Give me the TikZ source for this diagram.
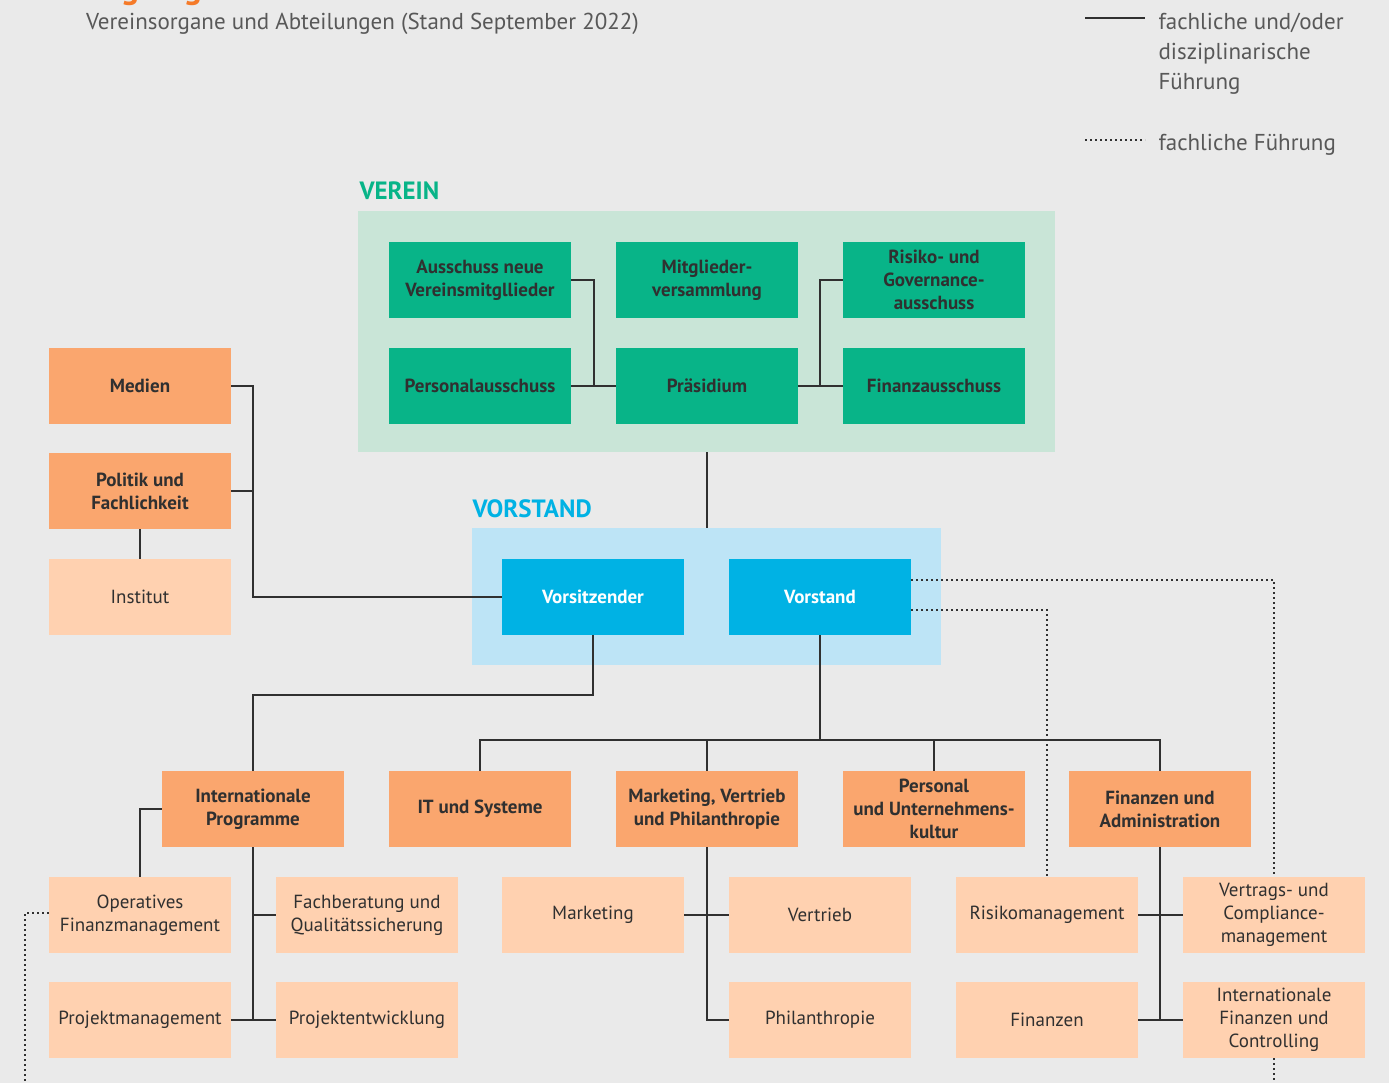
\documentclass[tikz,border=0pt]{standalone}
\usepackage{fontspec}
\setmainfont{PT Sans}

\definecolor{hintergrund}{RGB}{234,234,234}
\definecolor{vereingruen}{RGB}{8,180,136}
\definecolor{vereinhell}{RGB}{201,229,215}
\definecolor{vorstandblau}{RGB}{0,178,228}
\definecolor{vorstandhell}{RGB}{189,228,246}
\definecolor{abtorange}{RGB}{250,166,110}
\definecolor{abthell}{RGB}{255,209,176}
\definecolor{linie}{RGB}{48,48,48}
\definecolor{textgrau}{RGB}{88,88,88}
\definecolor{titelorange}{RGB}{245,122,40}

\begin{document}
\begin{tikzpicture}[x=1pt,y=-1pt,
    box/.style={minimum width=182, minimum height=76, inner sep=0pt, align=center,
        text=linie, font=\fontsize{19}{23}\selectfont},
    gruen/.style={box, fill=vereingruen, font=\fontsize{19}{23}\selectfont\bfseries},
    blau/.style={box, fill=vorstandblau, text=white, font=\fontsize{19}{23}\selectfont\bfseries},
    abteilung/.style={box, fill=abtorange, font=\fontsize{19}{23}\selectfont\bfseries},
    bereich/.style={box, fill=abthell},
    ueberschrift/.style={anchor=west, font=\fontsize{25}{28}\selectfont\bfseries},
    legende/.style={anchor=north west, align=left, text=textgrau, font=\fontsize{23}{30}\selectfont},
    fuehrung/.style={draw=linie, line width=2pt},
    fachlich/.style={draw=linie, line width=2pt, dash pattern=on 2pt off 3pt}]

    % Hintergrund
    \fill[hintergrund] (0,0) rectangle (1389,1083);
    \useasboundingbox (0,0) rectangle (1389,1083);

    % Titel und Legende
    \node[anchor=base west, inner sep=0pt, text=titelorange, font=\fontsize{34}{40}\selectfont\bfseries] (titel) at (86,-1) {Organigramm};
    \node[anchor=west, inner sep=0pt, text=textgrau, font=\fontsize{23}{27}\selectfont] (untertitel) at (86,24) {Vereinsorgane und Abteilungen (Stand September 2022)};
    \coordinate (legA) at (1085,18);
    \coordinate (legB) at (1085,140);
    \draw[fuehrung] (legA) -- ++(60,0);
    \draw[fachlich] (legB) -- ++(60,0);
    \node[legende] (legtextA) at (1155,10) {fachliche und/oder\\disziplinarische\\Führung};
    \node[legende] (legtextB) at (1155,131) {fachliche Führung};

    % Verein
    \node[fill=vereinhell, minimum width=697, minimum height=241, inner sep=0pt] (verein) at (706.5,331.5) {};
    \node[ueberschrift, text=vereingruen] (vereinlabel) at (356,191) {VEREIN};
    \node[gruen] (ausschuss) at (480,280) {Ausschuss neue\\Vereinsmitgllieder};
    \node[gruen] (mitglieder) at (707,280) {Mitglieder-\\versammlung};
    \node[gruen] (risiko) at (934,280) {Risiko- und\\Governance-\\ausschuss};
    \node[gruen] (personal) at (480,386) {Personalausschuss};
    \node[gruen] (praesidium) at (707,386) {Präsidium};
    \node[gruen] (finanzaus) at (934,386) {Finanzausschuss};

    % Vorstand
    \node[fill=vorstandhell, minimum width=469, minimum height=137, inner sep=0pt] (vorstandfeld) at (706.5,596.5) {};
    \node[ueberschrift, text=vorstandblau] (vorstandlabel) at (469,509) {VORSTAND};
    \node[blau] (vorsitz) at (593,597) {Vorsitzender};
    \node[blau] (vorstand) at (820,597) {Vorstand};

    % Stabsstellen links
    \node[abteilung] (medien) at (140,386) {Medien};
    \node[abteilung] (politik) at (140,491) {Politik und\\Fachlichkeit};
    \node[bereich] (institut) at (140,597) {Institut};

    % Abteilungen
    \node[abteilung] (intprog) at (253,809) {Internationale\\Programme};
    \node[abteilung] (itsys) at (480,809) {IT und Systeme};
    \node[abteilung] (mvp) at (707,809) {Marketing, Vertrieb\\und Philanthropie};
    \node[abteilung] (personalku) at (934,809) {Personal\\und Unternehmens-\\kultur};
    \node[abteilung] (finadmin) at (1160,809) {Finanzen und\\Administration};

    % Bereiche
    \node[bereich] (opfin) at (140,915) {Operatives\\Finanzmanagement};
    \node[bereich] (fachber) at (367,915) {Fachberatung und\\Qualitätssicherung};
    \node[bereich] (projman) at (140,1020) {Projektmanagement};
    \node[bereich] (projentw) at (367,1020) {Projektentwicklung};
    \node[bereich] (marketing) at (593,915) {Marketing};
    \node[bereich] (vertrieb) at (820,915) {Vertrieb};
    \node[bereich] (philan) at (820,1020) {Philanthropie};
    \node[bereich] (risikoman) at (1047,915) {Risikomanagement};
    \node[bereich] (vertrags) at (1274,915) {Vertrags- und\\Compliance-\\management};
    \node[bereich] (finanzen) at (1047,1020) {Finanzen};
    \node[bereich] (intfin) at (1274,1020) {Internationale\\Finanzen und\\Controlling};

    % Linien im Verein
    \draw[fuehrung] (ausschuss.east) -- ++(23,0) |- (praesidium.west);
    \draw[fuehrung] (personal.east) -- (praesidium.west);
    \draw[fuehrung] (risiko.west) -- ++(-23,0) |- (praesidium.east);
    \draw[fuehrung] (finanzaus.west) -- (praesidium.east);
    \draw[fuehrung] (verein.south) -- (vorstandfeld.north);

    % Linien links
    \draw[fuehrung] (medien.east) -- ++(22,0) |- (vorsitz.west);
    \draw[fuehrung] (politik.east) -- ++(22,0);
    \draw[fuehrung] (politik.south) -- (institut.north);

    % Linien zu den Abteilungen
    \draw[fuehrung] (vorsitz.south) -- ++(0,60) -| (intprog.north);
    \draw[fuehrung] (vorstand.south) -- ++(0,105) coordinate (knoten);
    \draw[fuehrung] (itsys.north) -- ++(0,-31) -| (finadmin.north);
    \foreach \abt in {mvp,personalku}
        \draw[fuehrung] (\abt.north) -- (\abt.north |- knoten);

    % Linien zu den Bereichen
    \draw[fuehrung] (intprog.west) -| (opfin.north);
    \draw[fuehrung] (intprog.south) |- (projentw.west);
    \draw[fuehrung] (intprog.south |- fachber.west) -- (fachber.west);
    \draw[fuehrung] (projman.east) -- (projentw.west);
    \draw[fuehrung] (mvp.south) |- (philan.west);
    \draw[fuehrung] (marketing.east) -- (vertrieb.west);
    \draw[fuehrung] (finadmin.south) |- (intfin.west);
    \draw[fuehrung] (risikoman.east) -- (vertrags.west);
    \draw[fuehrung] (finanzen.east) -- (intfin.west);

    % fachliche Fuehrung
    \coordinate (untenL) at (25,1090);
    \draw[fachlich] ([yshift=17]vorstand.east) -| (vertrags.north);
    \draw[fachlich] ([yshift=-13]vorstand.east) -| (risikoman.north);
    \draw[fachlich] (intfin.south) -- (intfin.south |- untenL);
    \draw[fachlich] ([yshift=2]opfin.west) -| (untenL);
\end{tikzpicture}
\end{document}
